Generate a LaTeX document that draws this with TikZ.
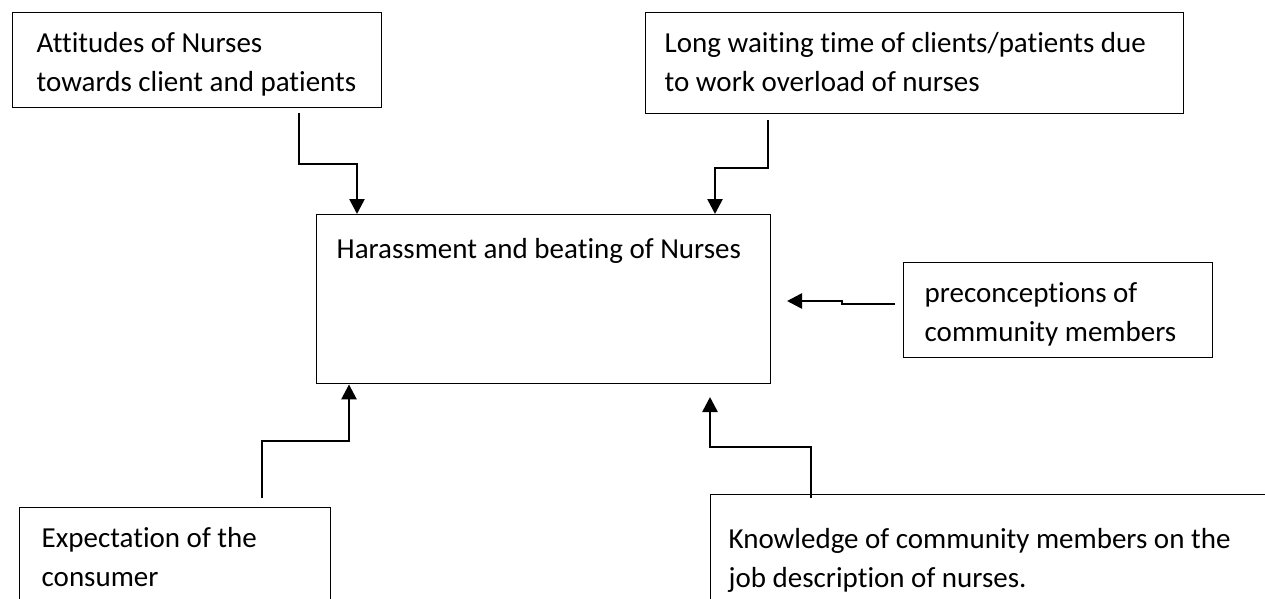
\documentclass[tikz,border=0pt]{standalone}
\usepackage{fontspec}
\setmainfont{Carlito}[Ligatures={NoCommon}]
\usetikzlibrary{arrows.meta}
\newcommand{\bxt}[5]{\parbox[b][#2pt][t]{#1pt}{\raggedright\leftskip=#3pt\relax\rule{0pt}{#4pt}#5}}
\begin{document}
\begin{tikzpicture}[x=1pt,y=-1pt,
  box/.style={draw=black, line width=1.4pt, inner sep=0pt, anchor=north west,
    font=\fontsize{29}{38.5}\selectfont},
  arr/.style={line width=2.6pt, -{Triangle[width=15pt,length=15pt]}}]
\useasboundingbox (0,0) rectangle (1265,598);
\clip (0,0) rectangle (1265,598);
\fill[white] (0,0) rectangle (1265,598);
\node[box] (A) at (12,12) {\bxt{369}{95}{24}{40}{Attitudes of Nurses\\towards client and patients}};
\node[box] (B) at (645,12) {\bxt{538}{101}{19}{40}{Long waiting time of clients/patients due\\to work overload of nurses}};
\node[box] (C) at (316,214) {\bxt{454}{169}{20}{44}{Harassment and beating of Nurses}};
\node[box] (P) at (903,262) {\bxt{309}{95}{21}{40}{preconceptions of\\community members}};
\node[box] (E) at (19,507) {\bxt{311}{130}{22}{40}{Expectation of the\\consumer}};
\node[box] (K) at (710,494) {\bxt{600}{140}{18}{54}{Knowledge of community members on the\\job description of nurses.}};
% arrows
\coordinate (a1) at (299,113);
\coordinate (a2) at (357,164);
\draw[arr] (a1) |- (a2) -- (a2 |- C.north);
\coordinate (b1) at (768,120);
\coordinate (b2) at (715,168);
\draw[arr] (b1) |- (b2) -- (b2 |- C.north);
\coordinate (p1) at (895,304);
\coordinate (p2) at (842,301);
\coordinate (p3) at (787,301);
\draw[arr] (p1) -- (p1 -| p2) -- (p2) -- (p3);
\coordinate (e1) at (262,498);
\coordinate (e2) at (349,441);
\draw[arr] (e1) |- (e2) -- (e2 |- C.south);
\coordinate (k1) at (811,498);
\coordinate (k2) at (710,447);
\coordinate (k3) at (710,397);
\draw[arr] (k1) |- (k2) -- (k3);
\end{tikzpicture}
\end{document}
